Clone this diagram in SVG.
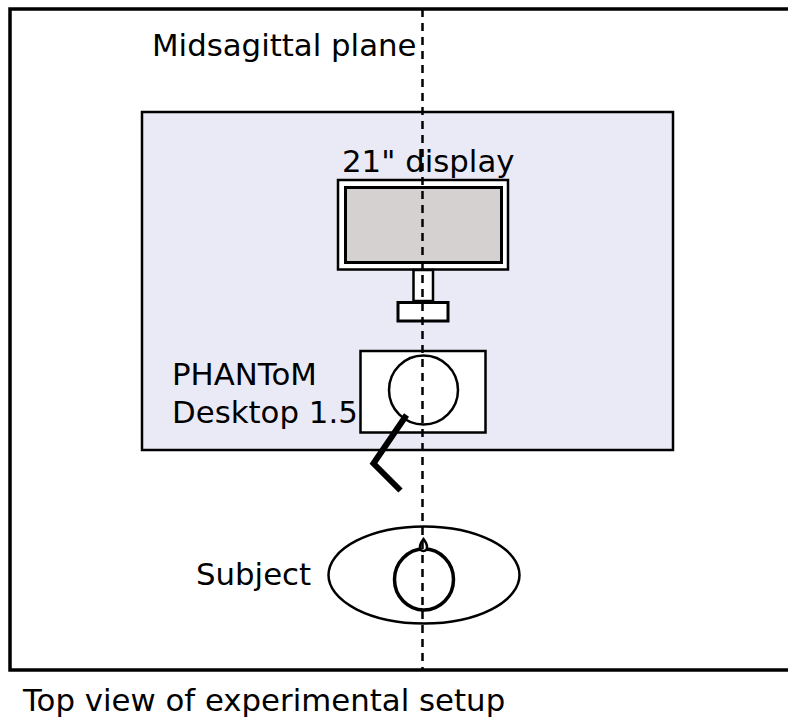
<svg xmlns="http://www.w3.org/2000/svg" width="788" height="722" viewBox="0 0 788 722">
<style>
text{font-family:"DejaVu Sans","Liberation Sans",sans-serif;font-size:30.8px;fill:#000}
.s{stroke:#000;fill:none}
</style>
<rect width="788" height="722" fill="#fff"/>
<g id="frame"><rect class="s" x="10" y="9" width="800" height="661" stroke-width="3.5"/></g>
<g id="desk"><rect x="142" y="112" width="531" height="338" fill="#eaeaf6" stroke="#000" stroke-width="2.5"/></g>
<g id="display">
<rect x="338" y="180" width="170" height="89.5" fill="#fff" stroke="#000" stroke-width="2.5"/>
<rect x="345.5" y="187.5" width="156" height="75" fill="#d5d1d1" stroke="#000" stroke-width="3"/>
<rect x="413.5" y="270" width="19.5" height="31" fill="#fff" stroke="#000" stroke-width="2.5"/>
<rect x="398" y="302.5" width="50" height="18.5" fill="#fff" stroke="#000" stroke-width="3"/>
<text x="342" y="172">21" display</text>
</g>
<g id="phantom">
<rect x="360.5" y="351" width="125" height="81.5" fill="#fff" stroke="#000" stroke-width="2.5"/>
<circle class="s" cx="423.5" cy="390" r="34.5" stroke-width="2.5"/>
<polyline class="s" points="406.5,415 373.5,463.5 400.5,490.5" stroke-width="6"/>
<text x="172" y="385">PHANToM</text>
<text x="172" y="423">Desktop 1.5</text>
</g>
<g id="subject">
<ellipse class="s" cx="424" cy="575" rx="95.5" ry="48.5" stroke-width="2.5"/>
<ellipse class="s" cx="424" cy="579.5" rx="29.5" ry="30.5" stroke-width="3.5"/>
<path d="M423.5,539 C420.5,543 419,546.5 420.5,549.5 C422,551.5 425,551.5 426.5,549.5 C428,546.5 426.5,543 423.5,539 Z" stroke="#000" stroke-width="2.5" fill="#fff"/>
<text x="196" y="585">Subject</text>
</g>
<g id="connectors">
<line class="s" x1="422.5" y1="9" x2="422.5" y2="670" stroke-width="2.5" stroke-dasharray="8,6"/>
</g>
<g id="labels">
<text x="152" y="56">Midsagittal plane</text>
<text x="23" y="711">Top view of experimental setup</text>
</g>
</svg>
